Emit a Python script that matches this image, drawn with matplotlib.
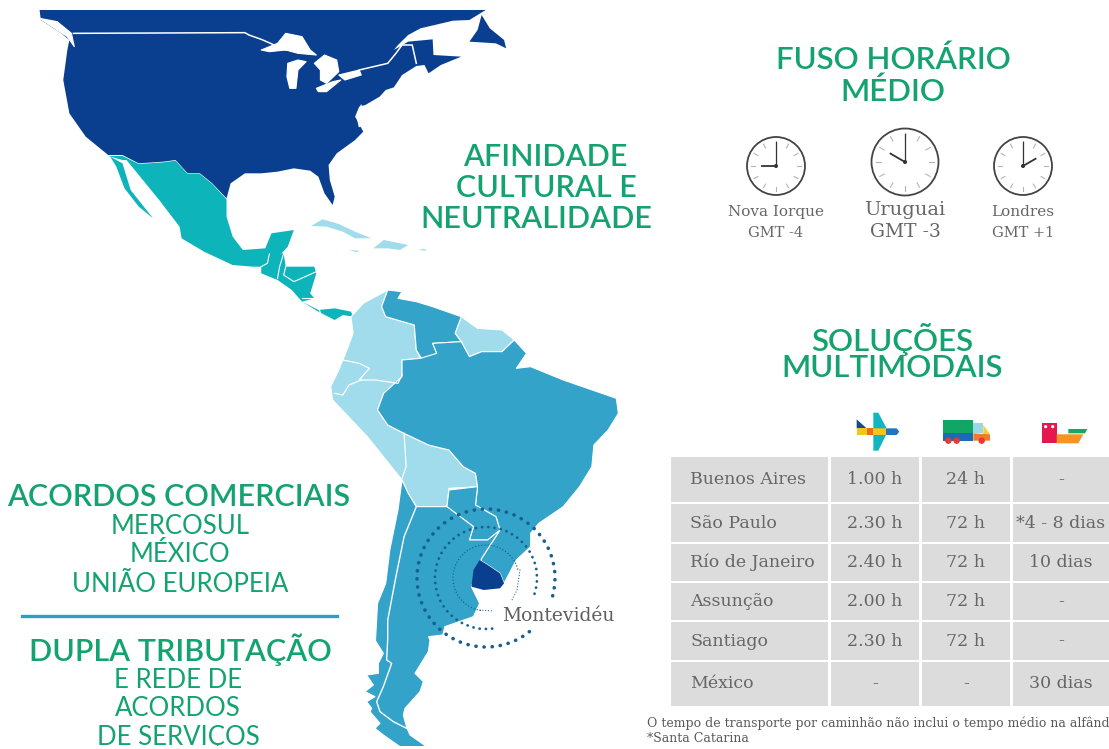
import matplotlib
matplotlib.use("Agg")
import matplotlib.pyplot as plt
from matplotlib.patches import Polygon, Circle, Rectangle, Arc
import numpy as np

W, H = 1109, 749
GREEN = "#14a370"
GREY = "#666666"
NAVY = "#0a3f90"
TEAL = "#0db4ba"
MID = "#33a3c9"
LIGHT = "#a0dcec"
SLAB = "DejaVu Serif"

# map shapes, in crop units (x/2.45, y/3)
north_america = [(97,30),(1190,30),(1150,60),(1110,62),(1065,75),(1030,85),(1000,105),(975,135),(965,150),(1000,125),(1060,118),(1062,165),(1130,170),(1080,195),(1050,220),(1040,195),(1020,198),(985,225),(965,262),(945,270),(930,290),(895,315),(880,320),(870,350),(890,395),(870,420),(825,460),(805,495),(808,540),(820,590),(815,615),(795,580),(780,530),(760,512),(720,505),(680,515),(640,520),(600,520),(565,550),(555,595),(520,550),(490,520),(460,520),(430,480),(400,485),(340,490),(300,465),(265,465),(210,410),(170,340),(155,240),(165,150),(170,120),(150,100),(100,60)]
newfoundland = [(1180,45),(1200,85),(1235,120),(1240,145),(1215,130),(1150,125),(1170,90)]
great_lakes = [
    [(640,150),(680,130),(700,100),(740,110),(760,150),(775,165),(730,160),(700,150),(660,155)],
    [(705,190),(730,180),(750,185),(730,210),(725,265),(710,265),(703,230)],
    [(770,190),(795,165),(825,180),(830,215),(800,250),(785,240),(785,210)],
    [(775,265),(815,245),(835,240),(800,275),(780,275)],
    [(830,225),(880,210),(885,225),(845,240)],
    [(97,55),(140,65),(175,100),(182,140),(165,110),(140,90)],
    [(875,350),(885,315),(890,375),(880,380)],
]
us_canada_border = [(180,100),(600,98),(610,105),(640,118),(700,150)]
st_lawrence = [(880,210),(950,190),(970,160),(985,135),(1010,135),(1020,190)]

mexico = [(265,468),(300,468),(340,492),(400,487),(430,482),(460,522),(490,522),(520,552),(555,598),(555,650),(570,710),(595,750),(650,745),(665,700),(720,690),(705,740),(690,760),(660,770),(640,800),(620,800),(570,795),(500,755),(445,715),(440,680),(390,600),(330,510),(310,480),(300,480)]
baja = [(270,470),(300,490),(320,570),(375,655),(340,620),(305,565),(285,500)]
central_america = [(640,800),(660,760),(695,760),(700,800),(770,800),(775,820),(760,880),(770,895),(740,905),(780,930),(820,925),(860,935),(865,950),(840,945),(820,960),(780,935),(740,905),(715,870),(680,840),(640,820)]
ca_borders = [
    [(660,762),(655,790),(640,800)],
    [(695,760),(685,800),(680,835)],
    [(700,800),(695,825),(720,845),(775,815)],
    [(740,893),(770,893)],
    [(780,925),(785,937)],
]
cuba = [(762,678),(790,658),(830,672),(870,695),(910,715),(870,715),(840,695),(800,680)]
hispaniola = [(915,745),(940,720),(1000,735),(980,750),(950,745)]
jamaica = [(855,750),(880,752),(875,757)]
puerto_rico = [(1025,747),(1045,748),(1040,753)]

# south america, y is 1110 crop units lower in the second crop
light_west = [(860,-160),(890,-200),(950,-240),(935,-190),(945,-160),(1015,-135),(1020,-60),(1030,-35),(985,-30),(985,20),(975,60),(940,70),(925,120),(950,165),(990,190),(1050,225),(1100,240),(1135,290),(1165,310),(1170,350),(1100,355),(1095,410),(1020,410),(1000,370),(985,330),(900,200),(815,90),(810,50),(830,0),(850,-60),(865,-110)]
guyanas = [(1130,-160),(1170,-125),(1230,-120),(1260,-90),(1230,-55),(1180,-55),(1150,-40),(1130,-85),(1115,-110)]
venezuela = [(950,-240),(985,-235),(975,-215),(1020,-205),(1060,-190),(1130,-160),(1115,-110),(1130,-85),(1060,-80),(1070,-50),(1035,-30),(1020,-60),(1015,-135),(945,-160),(935,-190)]
brazil = [(1130,-85),(1150,-40),(1180,-55),(1230,-55),(1260,-90),(1290,-50),(1265,-5),(1300,-10),(1380,30),(1510,85),(1515,130),(1490,180),(1455,225),(1450,290),(1420,350),(1380,410),(1320,460),(1300,490),(1300,530),(1265,570),(1235,640),(1225,610),(1195,585),(1175,570),(1180,565),(1225,480),(1215,440),(1165,405),(1170,350),(1165,310),(1135,290),(1100,240),(1050,225),(990,190),(950,165),(925,120),(940,70),(985,20),(985,-30),(1030,-35),(1070,-50),(1060,-80)]
paraguay = [(1100,360),(1170,350),(1165,405),(1215,440),(1225,480),(1195,510),(1150,510),(1160,470),(1095,410)]
cone_north_east = [(985,330),(1000,370),(1020,410),(1095,410),(1160,470),(1150,510),(1195,510),(1225,480),(1180,565),(1155,650),(1175,700),(1160,740),(1090,770),(1085,795),(1050,800)]
cone_north_west = [(920,810),(925,700),(945,640),(955,540),(975,420)]
# patagonia from a closer crop, 3x from (360, 640)
patagonia = [(210,0),(205,35),(165,100),(190,125),(180,155),(135,205),(130,225),(140,262),(150,285),(200,320),(120,320),(70,285),(45,265),(60,250),(30,215),(35,205),(20,185),(45,170),(15,155),(40,135),(20,105),(55,100),(55,70),(70,40),(45,0)]
chile_north = [(1020,410),(990,500),(970,620),(950,750)]
chile_south = [(83,0),(80,60),(95,70),(70,140),(50,185),(60,215),(100,245),(140,265)]
light_borders = [
    [(840,-30),(880,-20),(905,-5),(880,30),(920,30),(975,40),(985,15)],
    [(820,70),(840,75),(855,45),(885,30)],
    [(990,190),(995,290),(985,325)],
]
uruguay = [(1175,570),(1195,585),(1225,610),(1235,640),(1225,655),(1185,660),(1155,650),(1160,600)]

# dotted rings around Montevideo: radius, start and end angle
ring_center = (486, 578)
ring_radius = [69, 51, 33]
ring_start = [51, 83, 100]
ring_end = [378, 383, 347]
ring_width = [2.6, 2.0, 1.0]

# clocks
clock_x = [776, 905, 1023]
clock_y = [166, 162, 166]
clock_r = [29, 33.5, 29]
clock_hour = [270, 300, 60]
city_names = ["Nova Iorque", "Uruguai", "Londres"]
city_gmt = ["GMT -4", "GMT -3", "GMT +1"]
city_size = [11, 14, 11]
city_y = [212, 210, 212]
gmt_y = [233, 232, 233]

# table
cities = ["Buenos Aires", "São Paulo", "Río de Janeiro", "Assunção", "Santiago", "México"]
air = ["1.00 h", "2.30 h", "2.40 h", "2.00 h", "2.30 h", "-"]
road = ["24 h", "72 h", "72 h", "72 h", "72 h", "-"]
sea = ["-", "*4 - 8 dias", "10 dias", "-", "-", "30 dias"]
col_edges = [(670.5, 828), (831, 918.5), (921.5, 1010), (1013, 1109)]
row_edges = [(457, 502), (504, 542), (543.5, 581), (582.5, 620), (622, 660), (662, 705.5)]


def crop1(pts):
    return [(x / 2.45, y / 3) for x, y in pts]


def crop2(pts):
    return [(x / 2.45, 370 + y / 3) for x, y in pts]


def crop3(pts):
    return [(630 + x / 3, 400 + y / 3) for x, y in pts]


def crop4(pts):
    return [(360 + x / 3, 640 + y / 3) for x, y in pts]


fig = plt.figure(figsize=(W / 100, H / 100), dpi=100)
ax = fig.add_axes([0, 0, 1, 1])
ax.set_xlim(0, W)
ax.set_ylim(H, 0)
ax.axis("off")


def shape(pts, color, edge="white", lw=0.8, z=2):
    ax.add_patch(Polygon(pts, closed=True, facecolor=color, edgecolor=edge, linewidth=lw, zorder=z, joinstyle="round"))


def wline(pts, lw=1.1, z=3):
    xs, ys = zip(*pts)
    ax.plot(xs, ys, color="white", lw=lw, zorder=z, solid_joinstyle="round")


# map
shape(crop1(north_america), NAVY, lw=0)
shape(crop1(newfoundland), NAVY, lw=0)
for lake in great_lakes:
    shape(crop1(lake), "white", lw=0.8, z=3)
wline(crop1(us_canada_border))
wline(crop1(st_lawrence))
shape(crop1(mexico), TEAL, lw=0)
shape(crop1(baja), TEAL, lw=0)
shape(crop1(central_america), TEAL, lw=0)
for b in ca_borders:
    wline(crop1(b), lw=0.8)
for isl in [cuba, hispaniola, jamaica, puerto_rico]:
    shape(crop1(isl), LIGHT, lw=0)
shape(crop2(light_west), LIGHT)
shape(crop2(guyanas), LIGHT)
shape(crop2(venezuela), MID)
shape(crop2(brazil), MID)
shape(crop2(paraguay), MID)
shape(crop2(cone_north_east) + crop4(patagonia) + crop2(cone_north_west), MID)
for b in light_borders:
    wline(crop2(b), lw=0.9)
wline(crop2(chile_north) + crop4(chile_south), lw=1.0)
shape(crop2(uruguay), NAVY, lw=0, z=4)

for r, a, b, w in zip(ring_radius, ring_start, ring_end, ring_width):
    ax.add_patch(Arc(ring_center, 2 * r, 2 * r, theta1=a, theta2=b, color="#17608f", lw=w,
                     linestyle=(0, (0.05, 2.2)), capstyle="round", zorder=5))
ax.plot([480, 493], [610, 611], color="#17608f", lw=0.9, ls=(0, (0.05, 2.2)), dash_capstyle="round", zorder=5)
ax.plot([520, 517, 512], [570, 590, 600], color="#17608f", lw=0.9, ls=(0, (0.05, 2.2)), dash_capstyle="round", zorder=5)
ax.text(558.5, 616, "Montevidéu", fontsize=13.5, color="#5f5f5f", family=SLAB, ha="center", va="center", zorder=6)

# headings
head = dict(color=GREEN, family="Lato", ha="center", va="center", fontweight="semibold")
ax.text(545, 157, "AFINIDADE", fontsize=22, **head)
ax.text(546, 188, "CULTURAL E", fontsize=22, **head)
ax.text(536, 219, "NEUTRALIDADE", fontsize=22, **head)
ax.text(179, 497, "ACORDOS COMERCIAIS", fontsize=22, **head)
sub = dict(head, fontweight="normal")
ax.text(180, 527, "MERCOSUL", fontsize=18.5, **sub)
ax.text(180, 555, "MÉXICO", fontsize=18.5, **sub)
ax.text(180, 584, "UNIÃO EUROPEIA", fontsize=18.5, **sub)
ax.plot([22, 337], [616, 616], color="#2f9dc6", lw=2.4, zorder=3)
ax.text(180, 650, "DUPLA TRIBUTAÇÃO", fontsize=22, **head)
ax.text(178, 681, "E REDE DE", fontsize=18.5, **sub)
ax.text(178, 709, "ACORDOS", fontsize=18.5, **sub)
ax.text(178, 738, "DE SERVIÇOS", fontsize=18.5, **sub)
ax.text(893, 60, "FUSO HORÁRIO", fontsize=22.5, **head)
ax.text(893, 92, "MÉDIO", fontsize=22.5, **head)
ax.text(892, 340, "SOLUÇÕES", fontsize=22.5, **head)
ax.text(892, 368, "MULTIMODAIS", fontsize=22.5, **head)

# clocks
for i in range(3):
    cx, cy, r = clock_x[i], clock_y[i], clock_r[i]
    ax.add_patch(Circle((cx, cy), r, facecolor="white", edgecolor="#444444", lw=1.3, zorder=2))
    for h in range(12):
        t = np.deg2rad(h * 30)
        ax.plot([cx + 0.72 * r * np.sin(t), cx + 0.87 * r * np.sin(t)],
                [cy - 0.72 * r * np.cos(t), cy - 0.87 * r * np.cos(t)],
                color="#b5b5b5", lw=0.8, zorder=3)
    t = np.deg2rad(clock_hour[i])
    ax.plot([cx, cx + 0.5 * r * np.sin(t)], [cy, cy - 0.5 * r * np.cos(t)], color="#333333", lw=1.3, zorder=4)
    ax.plot([cx, cx], [cy, cy - 0.83 * r], color="#333333", lw=0.9, zorder=4)
    ax.add_patch(Circle((cx, cy), 1.3, color="#333333", zorder=5))
    ax.text(cx, city_y[i], city_names[i], fontsize=city_size[i], color=GREY, family=SLAB, ha="center", va="center")
    ax.text(cx, gmt_y[i], city_gmt[i], fontsize=city_size[i] - 0.5, color=GREY, family=SLAB, ha="center", va="center")

# table
columns = [cities, air, road, sea]
for c, (x0, x1) in enumerate(col_edges):
    for r, (y0, y1) in enumerate(row_edges):
        ax.add_patch(Rectangle((x0, y0), x1 - x0, y1 - y0, facecolor="#dcdcdc", edgecolor="none", zorder=2))
        if c == 0:
            ax.text(690, (y0 + y1) / 2, columns[c][r], fontsize=12.5, color=GREY, family=SLAB, ha="left", va="center", zorder=3)
        else:
            ax.text((x0 + x1) / 2, (y0 + y1) / 2, columns[c][r], fontsize=12.5, color=GREY, family=SLAB, ha="center", va="center", zorder=3)

# transport icons
icon_parts = [
    ("#12507f", [(680,58),(710,85),(680,85)]),
    ("#f6c51b", [(680,85),(710,85),(710,105),(680,105)]),
    ("#ef6a24", [(710,85),(730,85),(730,105),(710,105)]),
    ("#f6c51b", [(730,85),(768,85),(768,105),(730,105)]),
    ("#2576b8", [(768,85),(800,85),(808,95),(800,105),(768,105)]),
    ("#13b5c0", [(730,38),(745,38),(770,85),(730,85)]),
    ("#13b5c0", [(730,105),(768,105),(745,152),(730,152)]),
    ("#10a665", [(940,60),(1030,60),(1030,100),(940,100)]),
    ("#1c69b4", [(940,100),(1030,100),(1030,122),(940,122)]),
    ("#9bd8e6", [(1030,70),(1060,70),(1060,100),(1030,100)]),
    ("#f8cf2d", [(1060,75),(1080,103),(1060,103)]),
    ("#f17b2a", [(1030,100),(1080,103),(1080,122),(1030,122)]),
    ("#e6164f", [(1235,70),(1280,70),(1280,130),(1235,130)]),
    ("#1aa566", [(1315,87),(1372,87),(1365,100),(1315,100)]),
    ("#f7931e", [(1280,103),(1360,103),(1345,130),(1280,130)]),
]
for col, pts in icon_parts:
    shape(crop3(pts), col, edge="none", lw=0, z=3)
wheel_x = [955, 980, 1055]
for wx in wheel_x:
    ax.add_patch(Circle(crop3([(wx, 122)])[0], 2.5, color="#e63a36", zorder=4))
for dx in [1247, 1268]:
    ax.add_patch(Circle(crop3([(dx, 80)])[0], 0.9, color="white", zorder=4))

# notes
ax.text(647, 723, "O tempo de transporte por caminhão não inclui o tempo médio na alfândega", fontsize=9,
        color="#5a5a5a", family=SLAB, ha="left", va="center", clip_on=True)
ax.text(647, 738, "*Santa Catarina", fontsize=9, color="#5a5a5a", family=SLAB, ha="left", va="center")

# bottom of the picture is cut off in the source
ax.add_patch(Rectangle((0, 746), W, 3, facecolor="white", edgecolor="none", zorder=20))

fig.savefig("out.png", dpi=100, facecolor="white")
